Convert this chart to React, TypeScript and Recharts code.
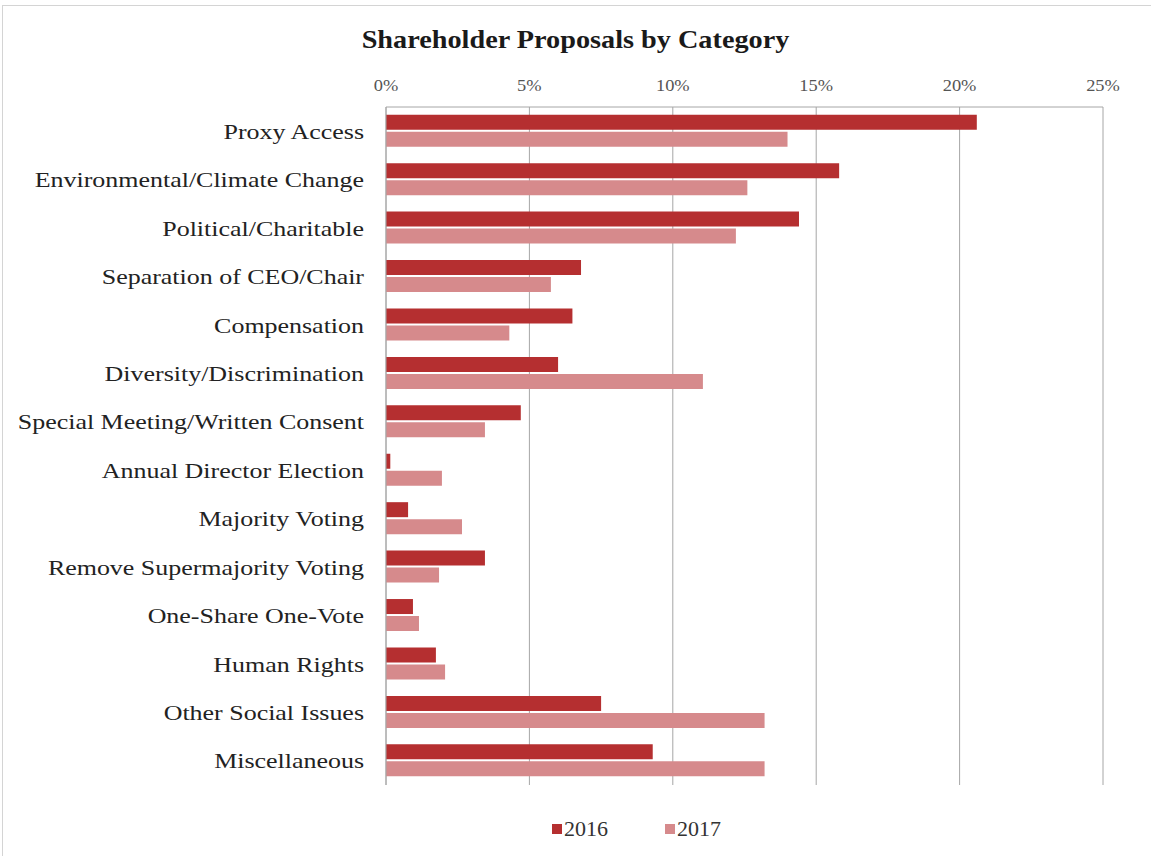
import { BarChart, Bar, XAxis, YAxis, CartesianGrid } from 'recharts';

const categories = [
  'Proxy Access',
  'Environmental/Climate Change',
  'Political/Charitable',
  'Separation of CEO/Chair',
  'Compensation',
  'Diversity/Discrimination',
  'Special Meeting/Written Consent',
  'Annual Director Election',
  'Majority Voting',
  'Remove Supermajority Voting',
  'One-Share One-Vote',
  'Human Rights',
  'Other Social Issues',
  'Miscellaneous',
];

const values2016 = [20.6, 15.8, 14.4, 6.8, 6.5, 6.0, 4.7, 0.15, 0.77, 3.45, 0.94, 1.74, 7.5, 9.3];
const values2017 = [14.0, 12.6, 12.2, 5.75, 4.3, 11.05, 3.45, 1.95, 2.65, 1.85, 1.15, 2.06, 13.2, 13.2];

const xTicks = [0, 5, 10, 15, 20, 25];

const COLOR_2016 = '#b52f30';
const COLOR_2017 = '#d68a8c';

const data = categories.map((name, i) => ({
  name,
  y2016: values2016[i],
  y2017: values2017[i],
}));

const serif = '"Liberation Serif", "Times New Roman", serif';

// the source image is a bit stretched sideways, so text is widened to match
function CategoryTick(props: any) {
  const { x, y, payload } = props;
  return (
    <text
      x={x}
      y={y}
      dy="0.35em"
      textAnchor="end"
      fill="#222"
      fontSize={22}
      fontFamily={serif}
      transform={`translate(${x},${y}) scale(1.18,1) translate(${-x},${-y})`}
    >
      {payload.value}
    </text>
  );
}

function PercentTick(props: any) {
  const { x, y, payload } = props;
  return (
    <text
      x={x}
      y={y}
      textAnchor="middle"
      fill="#555"
      fontSize={16}
      fontFamily={serif}
      transform={`translate(${x},${y}) scale(1.15,1) translate(${-x},${-y})`}
    >
      {`${payload.value}%`}
    </text>
  );
}

export default function App() {
  return (
    <div
      style={{
        position: 'absolute',
        left: 0,
        top: 0,
        width: 1151,
        height: 856,
        background: '#fff',
        fontFamily: serif,
        overflow: 'hidden',
      }}
    >
      <div
        style={{
          position: 'absolute',
          left: 2,
          top: 5,
          width: 1149,
          height: 851,
          borderLeft: '1px solid #d4d4d4',
          borderTop: '1px solid #d4d4d4',
        }}
      />
      <div
        style={{
          position: 'absolute',
          top: 26,
          left: 0,
          width: 1151,
          textAlign: 'center',
          fontWeight: 'bold',
          fontSize: 25,
          color: '#1a1a1a',
          transform: 'scaleX(1.13)',
        }}
      >
        Shareholder Proposals by Category
      </div>
      <BarChart
        width={1151}
        height={856}
        data={data}
        layout="vertical"
        margin={{ top: 77, right: 48, bottom: 71, left: 0 }}
        barCategoryGap="16%"
        barGap={2}
      >
        <CartesianGrid horizontal={false} stroke="#a6a6a6" />
        <XAxis
          type="number"
          orientation="top"
          domain={[0, 25]}
          ticks={xTicks}
          height={30}
          tickLine={false}
          tickSize={0}
          tickMargin={16}
          axisLine={{ stroke: '#a6a6a6' }}
          tick={<PercentTick />}
        />
        <YAxis
          type="category"
          dataKey="name"
          width={386}
          tickLine={false}
          tickSize={0}
          tickMargin={22}
          axisLine={{ stroke: '#a6a6a6' }}
          tick={<CategoryTick />}
          interval={0}
        />
        <Bar dataKey="y2016" fill={COLOR_2016} isAnimationActive={false} />
        <Bar dataKey="y2017" fill={COLOR_2017} isAnimationActive={false} />
      </BarChart>
      <div
        style={{
          position: 'absolute',
          top: 816,
          left: 552,
          display: 'flex',
          alignItems: 'center',
          fontSize: 22,
          color: '#333',
        }}
      >
        <span style={{ width: 10, height: 10, background: COLOR_2016, marginRight: 2 }} />
        <span>2016</span>
        <span style={{ width: 10, height: 10, background: COLOR_2017, marginLeft: 57, marginRight: 2 }} />
        <span>2017</span>
      </div>
    </div>
  );
}
